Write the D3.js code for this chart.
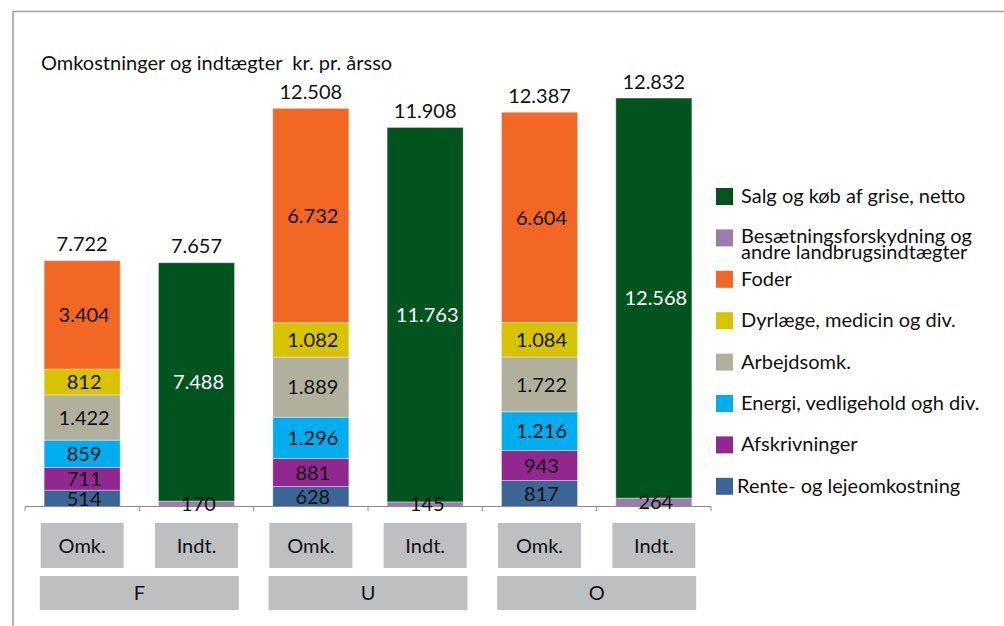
<!DOCTYPE html>
<html>
<head>
<meta charset="utf-8">
<script src="https://cdn.jsdelivr.net/npm/d3@7"></script>
<style>
  body { margin: 0; background: #fff; }
  svg text { font-family: Lato, "Noto Sans", sans-serif; fill: #111; }
</style>
</head>
<body>
<svg id="chart" width="1004" height="626"></svg>
<script>
// bars: Omk./Indt. for each of F, U, O
var groups = ["F", "U", "O"];
var barTypes = ["Omk.", "Indt."];
var barIds = ["F-Omk", "F-Indt", "U-Omk", "U-Indt", "O-Omk", "O-Indt"];

// series values per bar (same order as barIds)
var rente      = [514, 0, 628, 0, 817, 0];
var afskriv    = [711, 0, 881, 0, 943, 0];
var energi     = [859, 0, 1296, 0, 1216, 0];
var arbejds    = [1422, 0, 1889, 0, 1722, 0];
var dyrlaege   = [812, 0, 1082, 0, 1084, 0];
var foder      = [3404, 0, 6732, 0, 6604, 0];
var besaetning = [0, 170, 0, 145, 0, 264];
var salg       = [0, 7488, 0, 11763, 0, 12568];

var totals = [7722, 7657, 12508, 11908, 12387, 12832];

var seriesNames = ["Rente- og lejeomkostning", "Afskrivninger", "Energi, vedligehold ogh div.",
                   "Arbejdsomk.", "Dyrlæge, medicin og div.", "Foder",
                   "Besætningsforskydning og andre landbrugsindtægter", "Salg og køb af grise, netto"];
var seriesColors = ["#3a6594", "#92278f", "#00aeef", "#b1b09d", "#d7c300", "#f26724", "#9a7dab", "#02541f"];
var seriesValues = [rente, afskriv, energi, arbejds, dyrlaege, foder, besaetning, salg];

var legendOrder = [7, 6, 5, 4, 3, 2, 1, 0];

var svg = d3.select("#chart");

var fmt = d3.formatLocale({decimal: ",", thousands: ".", grouping: [3], currency: ["", ""]}).format(",d");

var rows = barIds.map(function(id, i) {
    var r = {id: id};
    seriesNames.forEach(function(s, k) { r[s] = seriesValues[k][i]; });
    return r;
});

var stack = d3.stack().keys(seriesNames)(rows);

var x = d3.scaleBand()
    .domain(barIds)
    .range([25, 711])
    .paddingInner(0.335)
    .paddingOuter(0.1675);

var y = d3.scaleLinear()
    .domain([0, 14000])
    .range([506.5, 506.5 - 14000 * 0.03183]);

// frame
svg.append("path")
    .attr("d", "M13,626V11.5H1004")
    .attr("fill", "none")
    .attr("stroke", "#a0a0a0")
    .attr("stroke-width", 1.5);

svg.append("text")
    .attr("x", 41)
    .attr("y", 70)
    .attr("xml:space", "preserve")
    .style("white-space", "pre")
    .style("font-size", "20px")
    .text("Omkostninger og indtægter  kr. pr. årsso");

// stacked bars
var layer = svg.append("g").selectAll("g")
    .data(stack)
    .enter().append("g")
    .attr("fill", function(d, i) { return seriesColors[i]; });

layer.selectAll("rect")
    .data(function(d) { return d.filter(function(p) { return p[1] - p[0] > 0; }); })
    .enter().append("rect")
    .attr("x", function(d) { return x(d.data.id); })
    .attr("y", function(d) { return y(d[1]); })
    .attr("width", x.bandwidth())
    .attr("height", function(d) { return y(d[0]) - y(d[1]); })
    .attr("stroke", "rgba(255,255,255,0.35)")
    .attr("stroke-width", 1);

// axis line and ticks
var step = x.step();
var x0 = x.range()[0];
svg.append("line")
    .attr("x1", x0).attr("x2", x.range()[1])
    .attr("y1", 506.5).attr("y2", 506.5)
    .attr("stroke", "#8c8c8c").attr("stroke-width", 1.2);
svg.append("g").selectAll("line")
    .data(d3.range(barIds.length + 1))
    .enter().append("line")
    .attr("x1", function(i) { return x0 + i * step; })
    .attr("x2", function(i) { return x0 + i * step; })
    .attr("y1", 506.5).attr("y2", 511)
    .attr("stroke", "#8c8c8c");

// segment labels (drawn above the axis line)
var labels = svg.append("g");
stack.forEach(function(s, k) {
    labels.append("g").selectAll("text")
        .data(s.filter(function(p) { return p[1] - p[0] > 0; }))
        .enter().append("text")
        .attr("x", function(d) { return x(d.data.id) + x.bandwidth() / 2 + 2; })
        .attr("y", function(d) { return (y(d[0]) + y(d[1])) / 2; })
        .attr("dy", "0.36em")
        .attr("text-anchor", "middle")
        .style("font-size", "20px")
        .style("fill", k === 7 ? "#fff" : "#111")
        .text(function(d) { return fmt(d[1] - d[0]); });
});

// totals
svg.append("g").selectAll("text")
    .data(barIds)
    .enter().append("text")
    .attr("x", function(d) { return x(d) + x.bandwidth() / 2; })
    .attr("y", function(d, i) { return y(d3.sum(seriesValues, function(v) { return v[i]; })) - 9.5; })
    .attr("text-anchor", "middle")
    .style("font-size", "20px")
    .text(function(d, i) { return fmt(totals[i]); });

// category boxes
var cat = svg.append("g").selectAll("g")
    .data(barIds)
    .enter().append("g")
    .attr("transform", function(d) { return "translate(" + (x(d) + x.bandwidth() / 2) + ",0)"; });
cat.append("rect")
    .attr("x", -41.5).attr("y", 523)
    .attr("width", 83).attr("height", 45)
    .attr("fill", "#bebfc1");
cat.append("text")
    .attr("y", 545.5).attr("dy", "0.36em")
    .attr("text-anchor", "middle")
    .style("font-size", "20px")
    .text(function(d, i) { return barTypes[i % 2]; });

var grp = svg.append("g").selectAll("g")
    .data(groups)
    .enter().append("g")
    .attr("transform", function(g, i) {
        var c = (x(barIds[2 * i]) + x(barIds[2 * i + 1]) + x.bandwidth()) / 2;
        return "translate(" + c + ",0)";
    });
grp.append("rect")
    .attr("x", -99.5).attr("y", 576)
    .attr("width", 199).attr("height", 34)
    .attr("fill", "#bebfc1");
grp.append("text")
    .attr("y", 593).attr("dy", "0.36em")
    .attr("text-anchor", "middle")
    .style("font-size", "20px")
    .text(function(d) { return d; });

// legend
var legend = svg.append("g").selectAll("g")
    .data(legendOrder)
    .enter().append("g")
    .attr("transform", function(k, i) { return "translate(716," + (188 + i * 41.4) + ")"; });
legend.append("rect")
    .attr("width", 17).attr("height", 17)
    .attr("fill", function(k) { return seriesColors[k]; });
legend.each(function(k) {
    var g = d3.select(this);
    if (k === 6) {
        g.append("text").attr("x", 25).attr("y", 14).style("font-size", "20px")
            .text("Besætningsforskydning og");
        g.append("text").attr("x", 25).attr("y", 30).style("font-size", "20px")
            .text("andre landbrugsindtægter");
    } else {
        g.append("text").attr("x", k === 0 ? 21 : 25).attr("y", 15).style("font-size", "20px")
            .text(seriesNames[k]);
    }
});
</script>
</body>
</html>
